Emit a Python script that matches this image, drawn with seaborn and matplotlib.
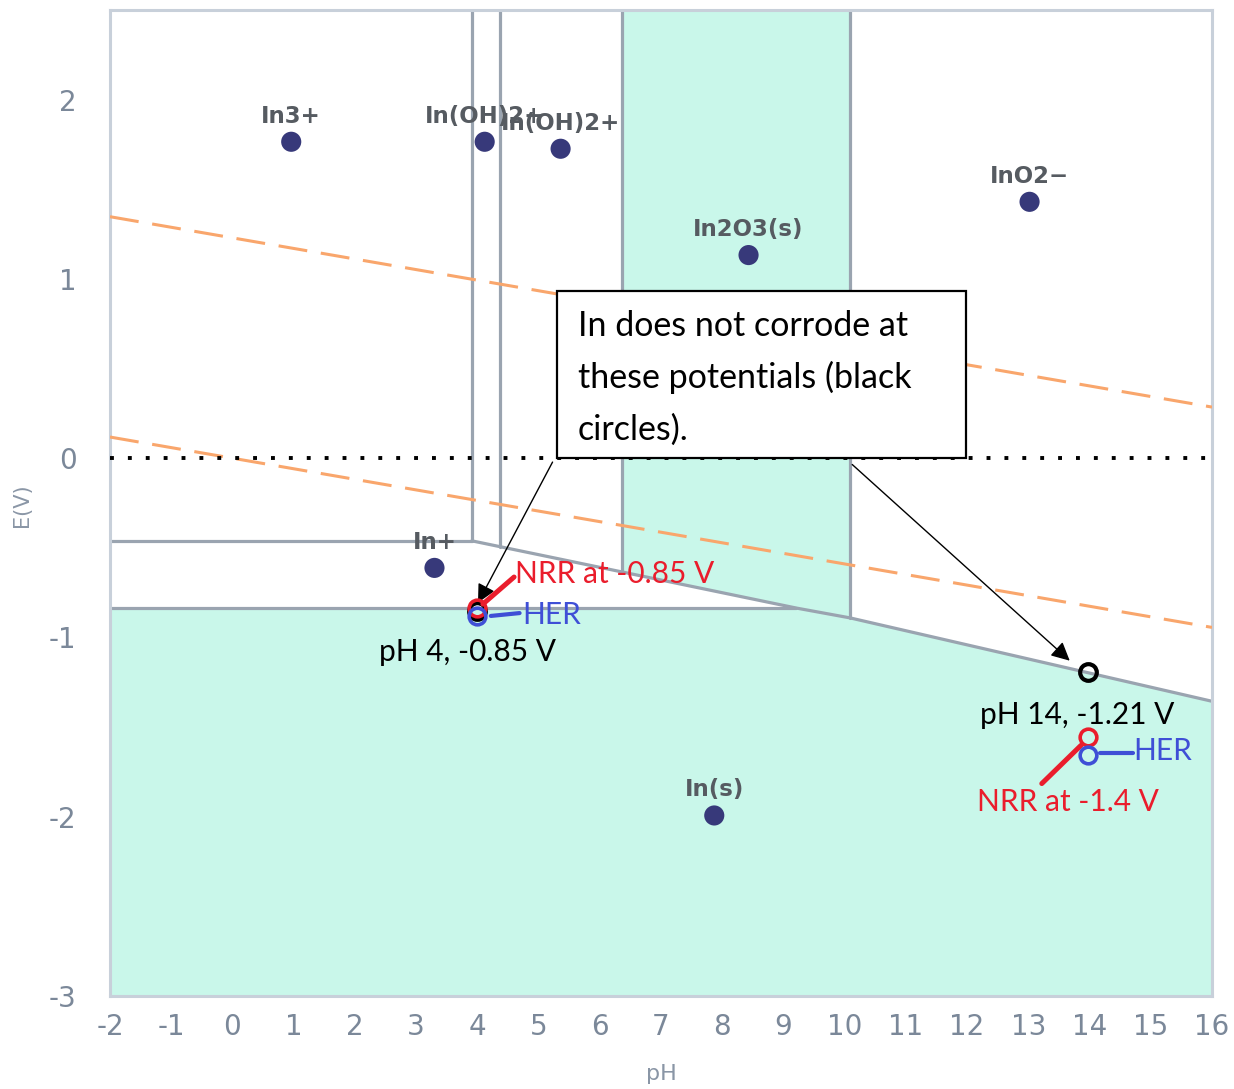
import numpy as np
import pandas as pd
import seaborn as sns
import matplotlib.pyplot as plt
from matplotlib.patches import Rectangle

# species dots (pH, E) with their labels
species = ['In3+', 'In(OH)2+', 'In(OH)2+', 'InO2−', 'In2O3(s)', 'In+', 'In(s)']
species_ph = [0.96, 4.12, 5.36, 13.02, 8.43, 3.30, 7.87]
species_e = [1.765, 1.765, 1.726, 1.43, 1.133, -0.612, -1.993]

# phase boundaries, one list per segment
bound_ph = [
    [-2, 3.91],                      # In3+ / In+
    [3.91, 3.91],                    # In3+ / In(OH)2+
    [4.37, 4.37],                    # In(OH)2+ / In(OH)2+
    [6.36, 6.36],                    # In(OH)2+ / In2O3
    [10.09, 10.09],                  # In2O3 / InO2-
    [-2, 9.21],                      # In+ / In
    [3.91, 9.21, 10.09, 16],         # sloped lower boundary
]
bound_e = [
    [-0.46, -0.46],
    [-0.46, 2.5],
    [-0.493, 2.5],
    [-0.634, 2.5],
    [-0.891, 2.5],
    [-0.836, -0.836],
    [-0.461, -0.836, -0.891, -1.356],
]

# stability regions (filled)
in_s_ph = [-2, -2, 9.21, 10.09, 16, 16]
in_s_e = [-3, -0.836, -0.836, -0.891, -1.356, -3]
in2o3_ph = [6.36, 6.36, 9.21, 10.09, 10.09]
in2o3_e = [2.5, -0.634, -0.836, -0.891, 2.5]

# water stability lines
water_ph = [-2, 16]
o2_e = [1.347, 0.285]
h2_e = [0.118, -0.944]

# marked potentials
black_ph, black_e = [4.0, 13.97], [-0.85, -1.19]
nrr_ph, nrr_e = [4.0, 13.97], [-0.836, -1.557]
her_ph, her_e = [4.0, 13.97], [-0.88, -1.658]

sns.set_theme(style='white')
plt.rcParams['axes.unicode_minus'] = False
plt.rcParams['font.family'] = ['DejaVu Sans']

tick_col = '#7b8899'
line_col = '#9aa4b0'
teal = '#c9f7ea'

fig = plt.figure(figsize=(12.34, 10.89), dpi=100)
ax = fig.add_axes([110 / 1234, 1 - 996 / 1089, 1102 / 1234, 986 / 1089])

ax.fill(in_s_ph, in_s_e, color=teal, lw=0, zorder=1)
ax.fill(in2o3_ph, in2o3_e, color=teal, lw=0, zorder=1)

seg = pd.DataFrame({
    'pH': [p for s in bound_ph for p in s],
    'E': [e for s in bound_e for e in s],
    'seg': [i for i, s in enumerate(bound_ph) for _ in s],
})
sns.lineplot(data=seg, x='pH', y='E', units='seg', estimator=None, sort=False,
             color=line_col, lw=2.3, ax=ax, zorder=2)

for ys in (o2_e, h2_e):
    ax.plot(water_ph, ys, color='#f9a66c', lw=2.2, dashes=(9.5, 4.5), zorder=3)

ax.axhline(0, color='black', lw=2.8, ls=(0, (1, 3.6)), zorder=3)

sns.scatterplot(x=species_ph, y=species_e, color='#37397a', s=210,
                edgecolor='none', ax=ax, zorder=4)
for name, x, y in zip(species, species_ph, species_e):
    ax.annotate(name, (x, y), xytext=(0, 18.5), textcoords='offset points',
                ha='center', va='center', fontsize=16.5, fontweight='bold',
                color='#565b61', zorder=5)

# callout box
ax.add_patch(Rectangle((5.30, 0.003), 6.68, 0.928, fc='white', ec='black',
                       lw=1.6, zorder=6))
box_lines = ['In does not corrode at', 'these potentials (black', 'circles).']
for i, t in enumerate(box_lines):
    ax.text(5.64, 0.736 - i * 0.288, t, ha='left', va='center', fontsize=24.5,
            family='Lato', color='black', zorder=7)

arrow = dict(arrowstyle='-|>', color='black', lw=1, mutation_scale=28)
ax.annotate('', xy=(3.99, -0.82), xytext=(5.25, -0.008), arrowprops=arrow, zorder=7)
ax.annotate('', xy=(13.71, -1.14), xytext=(10.09, -0.025), arrowprops=arrow, zorder=7)

# NRR / HER markers
ax.plot(black_ph, black_e, 'o', ms=12, mfc='none', mec='black', mew=3, zorder=8)
ax.plot(nrr_ph, nrr_e, 'o', ms=12, mfc='none', mec='#ea1d2c', mew=2.6, zorder=9)
ax.plot(her_ph, her_e, 'o', ms=12, mfc='none', mec='#3f4fd6', mew=2.6, zorder=10)
ax.plot([4.60, 4.09], [-0.663, -0.814], color='#ea1d2c', lw=3.6, zorder=9)
ax.plot([4.22, 4.69], [-0.88, -0.864], color='#3f4fd6', lw=3, zorder=9)
ax.plot([13.22, 13.86], [-1.815, -1.602], color='#ea1d2c', lw=3.6, zorder=9)
ax.plot([14.17, 14.71], [-1.647, -1.647], color='#3f4fd6', lw=3, zorder=9)

callouts = [
    ('NRR at -0.85 V', 4.61, -0.646, '#ea1d2c'),
    ('HER', 4.73, -0.875, '#3f4fd6'),
    ('pH 4, -0.85 V', 2.40, -1.082, 'black'),
    ('pH 14, -1.21 V', 12.21, -1.435, 'black'),
    ('HER', 14.71, -1.636, '#3f4fd6'),
    ('NRR at -1.4 V', 12.16, -1.92, '#ea1d2c'),
]
for t, x, y, c in callouts:
    ax.text(x, y, t, ha='left', va='center', fontsize=21.5, family='Lato',
            color=c, zorder=11)

ax.set_xlim(-2, 16)
ax.set_ylim(-3, 2.5)
ax.set_xticks(range(-2, 17))
ax.set_xticklabels([str(v) for v in range(-2, 17)])
ax.set_yticks(range(-3, 3))
ax.set_yticklabels([str(v) for v in range(-3, 3)])
ax.tick_params(axis='both', length=0, labelsize=20, labelcolor=tick_col)
ax.tick_params(axis='x', pad=12)
ax.tick_params(axis='y', pad=24)
ax.set_xlabel('pH', fontsize=16, color='#8a96a6')
ax.set_ylabel('E(V)', fontsize=15, color='#8a96a6')
ax.xaxis.set_label_coords(0.5, -0.069)
ax.yaxis.set_label_coords(-0.071, 0.498)
for sp in ax.spines.values():
    sp.set_color('#c8d0da')
    sp.set_linewidth(2.2)
    sp.set_visible(True)

fig.savefig('out.png', dpi=100)
